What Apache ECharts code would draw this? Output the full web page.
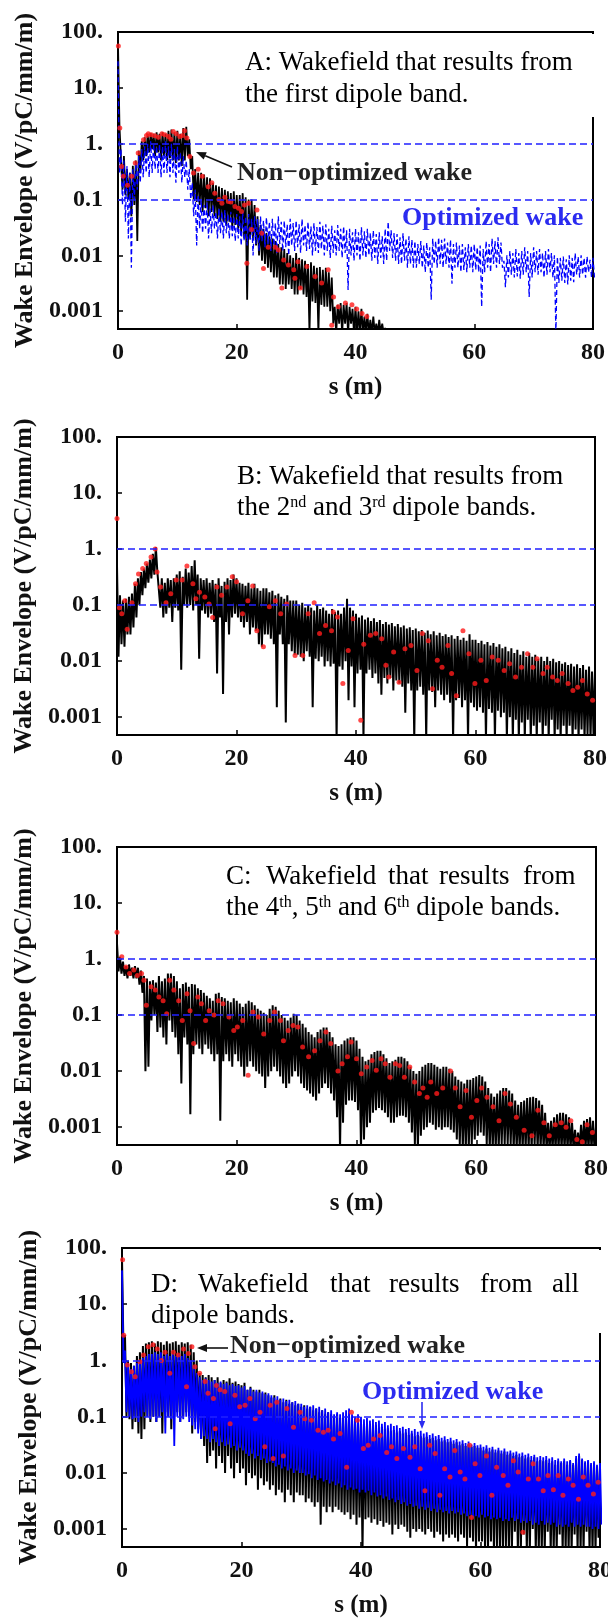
<!DOCTYPE html>
<html>
<head>
<meta charset="utf-8">
<title>Wake envelope</title>
<script src="https://cdn.jsdelivr.net/npm/echarts@6/dist/echarts.min.js"></script>
<style>
  html, body { margin: 0; padding: 0; background: #fff; }
  #chart { width: 608px; height: 1619px; }
</style>
</head>
<body>
<div id="chart"></div>
<script>
// samples every 0.5 m along s; each sample = envelope top (hi) and dip (lo)
const sStep = 0.5;

const yTickValues = [0.001, 0.01, 0.1, 1, 10, 100];
const yTickLabels = ['0.001', '0.01', '0.1', '1.', '10.', '100.'];
const refLevels = [1, 0.1];

// ---- panel A : first dipole band
const aBlackHi = [
  60, 2, 0.6, 0.35, 0.3, 0.4, 0.5, 0.75, 1.1, 1.3,
  1.5, 1.55, 1.5, 1.6, 1.5, 1.6, 1.5, 1.7, 1.8, 1.6,
  1.7, 1.5, 1.9, 2.0, 1.2, 0.6, 0.35, 0.3, 0.3, 0.28,
  0.25, 0.24, 0.2, 0.18, 0.17, 0.16, 0.15, 0.14, 0.13, 0.14,
  0.12, 0.12, 0.13, 0.11, 0.1, 0.1, 0.08, 0.05, 0.035, 0.03,
  0.025, 0.022, 0.02, 0.018, 0.016, 0.014, 0.013, 0.011, 0.01, 0.009,
  0.011, 0.009, 0.0085, 0.008, 0.007, 0.0075, 0.0065, 0.006, 0.0062, 0.0055,
  0.006, 0.005, 0.004, 0.0012, 0.0013, 0.0014, 0.0013, 0.0014, 0.0012, 0.0011,
  0.0012, 0.001, 0.0011, 0.0008, 0.0009, 0.0007, 0.0008, 0.0006, 0.0007, 0.0006,
  0.0005
];
const aBlackLo = [
  2, 0.15, 0.12, 0.1, 0.05, 0.08, 0.018, 0.3, 0.5, 0.6,
  0.7, 0.8, 0.6, 0.7, 0.5, 0.6, 0.5, 0.55, 0.5, 0.45,
  0.5, 0.4, 0.5, 0.6, 0.35, 0.1, 0.09, 0.08, 0.06, 0.07,
  0.05, 0.06, 0.05, 0.045, 0.04, 0.04, 0.035, 0.04, 0.03, 0.035,
  0.03, 0.025, 0.02, 0.0016, 0.02, 0.02, 0.015, 0.01, 0.008, 0.007,
  0.006, 0.005, 0.004, 0.004, 0.003, 0.003, 0.0025, 0.003, 0.0025, 0.002,
  0.002, 0.0025, 0.002, 0.0018, 0.0004, 0.0015, 0.0014, 0.0004, 0.0013, 0.0012,
  0.0012, 0.001, 0.0006, 0.0004, 0.0006, 0.0004, 0.0006, 0.0004, 0.0006, 0.0004,
  0.0004, 0.0004, 0.0004, 0.0004, 0.0004, 0.0004, 0.0004, 0.0004, 0.0004, 0.0004,
  0.0004
];
const aBlueHi = [
  30, 0.8, 0.5, 0.4, 0.3, 0.35, 0.45, 0.6, 0.8, 0.9,
  1.0, 1.1, 1.0, 0.9, 1.0, 0.9, 1.1, 0.9, 1.0, 0.8,
  0.9, 0.7, 0.6, 0.5, 0.35, 0.2, 0.15, 0.12, 0.1, 0.08,
  0.09, 0.07, 0.08, 0.06, 0.07, 0.06, 0.065, 0.055, 0.06, 0.05,
  0.055, 0.05, 0.06, 0.05, 0.055, 0.045, 0.05, 0.045, 0.05, 0.042,
  0.048, 0.04, 0.045, 0.038, 0.05, 0.04, 0.042, 0.036, 0.045, 0.038,
  0.042, 0.036, 0.045, 0.035, 0.04, 0.033, 0.038, 0.032, 0.04, 0.034,
  0.036, 0.03, 0.034, 0.028, 0.035, 0.03, 0.033, 0.028, 0.03, 0.026,
  0.03, 0.026, 0.032, 0.027, 0.03, 0.025, 0.028, 0.024, 0.026, 0.022,
  0.03, 0.04, 0.028, 0.025, 0.024, 0.021, 0.025, 0.02, 0.022, 0.019,
  0.018, 0.016, 0.018, 0.015, 0.017, 0.014, 0.02, 0.018, 0.021, 0.019,
  0.02, 0.017, 0.019, 0.016, 0.017, 0.015, 0.016, 0.014, 0.016, 0.015,
  0.016, 0.014, 0.015, 0.013, 0.018, 0.016, 0.02, 0.018, 0.021, 0.017,
  0.008, 0.01, 0.012, 0.011, 0.013, 0.011, 0.012, 0.014, 0.012, 0.011,
  0.014, 0.012, 0.013, 0.011, 0.012, 0.013, 0.011, 0.01, 0.0094, 0.009,
  0.0095, 0.0085, 0.01, 0.009, 0.011, 0.0095, 0.01, 0.009, 0.0095, 0.0083,
  0.009
];
const aBlueLo = [
  0.3, 0.08, 0.04, 0.02, 0.006, 0.1, 0.15, 0.2, 0.25, 0.3,
  0.25, 0.3, 0.35, 0.3, 0.25, 0.3, 0.3, 0.25, 0.3, 0.2,
  0.3, 0.2, 0.25, 0.15, 0.1, 0.05, 0.015, 0.03, 0.025, 0.03,
  0.02, 0.025, 0.03, 0.02, 0.025, 0.02, 0.025, 0.02, 0.022, 0.018,
  0.02, 0.015, 0.018, 0.015, 0.018, 0.01, 0.016, 0.012, 0.018, 0.014,
  0.016, 0.012, 0.015, 0.011, 0.016, 0.012, 0.014, 0.01, 0.015, 0.012,
  0.014, 0.011, 0.015, 0.012, 0.013, 0.01, 0.012, 0.011, 0.013, 0.01,
  0.012, 0.009, 0.011, 0.01, 0.012, 0.009, 0.011, 0.0024, 0.01, 0.008,
  0.01, 0.008, 0.01, 0.009, 0.01, 0.008, 0.009, 0.007, 0.009, 0.007,
  0.008, 0.012, 0.009, 0.008, 0.007, 0.007, 0.008, 0.006, 0.007, 0.006,
  0.006, 0.007, 0.006, 0.005, 0.006, 0.0016, 0.007, 0.006, 0.007, 0.006,
  0.007, 0.006, 0.0031, 0.006, 0.006, 0.005, 0.0055, 0.005, 0.006, 0.005,
  0.0055, 0.005, 0.0012, 0.005, 0.006, 0.005, 0.007, 0.006, 0.007, 0.006,
  0.0027, 0.004, 0.0045, 0.004, 0.0042, 0.0038, 0.0045, 0.005, 0.0018, 0.004,
  0.005, 0.0045, 0.005, 0.004, 0.0045, 0.005, 0.004, 0.0004, 0.0032, 0.0035,
  0.0032, 0.003, 0.0035, 0.0033, 0.0045, 0.004, 0.0045, 0.004, 0.005, 0.004,
  0.004
];
const aDots = [
  [0.06, 56], [0.3, 1.9], [0.6, 0.39], [0.9, 0.26], [1.6, 0.18], [2.3, 0.26], [2.9, 0.45],
  [3.4, 0.68], [4.3, 1.18], [4.8, 1.4], [5.1, 1.5], [5.6, 1.45], [6.2, 1.39], [6.8, 1.3],
  [7.4, 1.5], [7.9, 1.45], [8.5, 1.35], [8.9, 1.2], [9.3, 1.66], [9.8, 1.5], [10.4, 1.35],
  [10.9, 1.4], [11.2, 1.7], [11.6, 1.26], [12.1, 0.59], [12.7, 0.3], [13.5, 0.35], [14.2, 0.26],
  [15.2, 0.17], [15.8, 0.2], [16.3, 0.13], [17, 0.1], [17.5, 0.086], [18, 0.11], [18.6, 0.092],
  [19, 0.09], [19.7, 0.075], [20.3, 0.07], [20.8, 0.061], [21.3, 0.08], [21.7, 0.0072],
  [22, 0.086], [22.5, 0.029], [23.4, 0.065], [24.2, 0.025], [24.5, 0.0058], [25.3, 0.014],
  [26.5, 0.014], [27, 0.0125], [27.6, 0.0026], [27.9, 0.0083], [28.7, 0.0067], [29.6, 0.0055],
  [29.8, 0.0039], [30.3, 0.0077], [30.7, 0.0026], [31.8, 0.0063], [33.2, 0.0042], [34.3, 0.0032],
  [35.4, 0.0055], [36, 0.00056], [36.3, 0.0018], [37.1, 0.0012], [38.3, 0.0014], [39.4, 0.0013],
  [40.2, 0.0011], [41.1, 0.00091], [41.9, 0.0008]
];

// ---- panel B : 2nd and 3rd dipole bands
const bBlackHi = [
  0.5, 0.15, 0.12, 0.13, 0.14, 0.16, 0.24, 0.3, 0.39, 0.45,
  0.55, 0.65, 0.82, 1.08, 0.42, 0.3, 0.25, 0.3, 0.28, 0.3,
  0.35, 0.4, 0.32, 0.45, 0.38, 0.5, 0.63, 0.35, 0.3, 0.28,
  0.3, 0.25, 0.28, 0.24, 0.3, 0.22, 0.26, 0.3, 0.28, 0.35,
  0.3, 0.25, 0.24, 0.22, 0.25, 0.2, 0.24, 0.2, 0.18, 0.2,
  0.2, 0.17, 0.18, 0.15, 0.16, 0.14, 0.13, 0.15, 0.12, 0.12,
  0.12, 0.1, 0.11, 0.09, 0.1, 0.09, 0.08, 0.1, 0.085, 0.09,
  0.08, 0.07, 0.085, 0.075, 0.08, 0.07, 0.09, 0.13, 0.09, 0.08,
  0.07, 0.06, 0.065, 0.055, 0.06, 0.052, 0.058, 0.05, 0.054, 0.046,
  0.05, 0.045, 0.048, 0.042, 0.046, 0.04, 0.043, 0.038, 0.04, 0.036,
  0.038, 0.034, 0.036, 0.032, 0.035, 0.03, 0.034, 0.029, 0.032, 0.028,
  0.03, 0.027, 0.029, 0.025, 0.028, 0.024, 0.026, 0.023, 0.03, 0.024,
  0.024, 0.021, 0.023, 0.02, 0.022, 0.019, 0.021, 0.018, 0.02, 0.017,
  0.018, 0.015, 0.017, 0.014, 0.016, 0.013, 0.015, 0.012, 0.014, 0.012,
  0.013, 0.011, 0.012, 0.01, 0.012, 0.01, 0.011, 0.0095, 0.01, 0.009,
  0.0095, 0.0085, 0.009, 0.008, 0.0088, 0.0075, 0.0085, 0.007, 0.008, 0.0065,
  0.007
];
const bBlackLo = [
  0.012, 0.02, 0.018, 0.03, 0.03, 0.04, 0.06, 0.1, 0.15, 0.2,
  0.25, 0.3, 0.35, 0.4, 0.09, 0.06, 0.07, 0.09, 0.05, 0.09,
  0.08, 0.007, 0.1, 0.09, 0.1, 0.08, 0.1, 0.011, 0.08, 0.07,
  0.06, 0.07, 0.05, 0.006, 0.06, 0.0026, 0.05, 0.03, 0.06, 0.07,
  0.06, 0.05, 0.04, 0.05, 0.03, 0.04, 0.035, 0.02, 0.018, 0.03,
  0.03, 0.025, 0.02, 0.0015, 0.03, 0.02, 0.0008, 0.02, 0.015, 0.013,
  0.013, 0.012, 0.01, 0.015, 0.012, 0.0015, 0.011, 0.01, 0.012, 0.008,
  0.01, 0.008, 0.009, 0.0004, 0.008, 0.007, 0.01, 0.002, 0.008, 0.0015,
  0.006, 0.007, 0.0004, 0.006, 0.007, 0.005, 0.006, 0.004, 0.0025, 0.005,
  0.004, 0.005, 0.003, 0.0045, 0.004, 0.0035, 0.0012, 0.004, 0.003, 0.0004,
  0.003, 0.0035, 0.0025, 0.0004, 0.003, 0.0028, 0.0015, 0.003, 0.0025, 0.002,
  0.0025, 0.0018, 0.0004, 0.002, 0.0022, 0.0015, 0.002, 0.0004, 0.0018, 0.0015,
  0.0013, 0.0015, 0.0012, 0.0004, 0.0014, 0.0012, 0.0004, 0.0013, 0.001, 0.0012,
  0.0004, 0.001, 0.0004, 0.0009, 0.0004, 0.0008, 0.0004, 0.0009, 0.0004, 0.0007,
  0.0004, 0.0008, 0.0004, 0.0007, 0.0004, 0.0009, 0.0004, 0.0006, 0.0004, 0.0007,
  0.0004, 0.0007, 0.0004, 0.0006, 0.0004, 0.0006, 0.0004, 0.0005, 0.0004, 0.0005,
  0.0004
];
const bDots = [
  [0, 3.5], [0.4, 0.09], [0.8, 0.07], [1.3, 0.12], [1.7, 0.037], [2.5, 0.11], [3.1, 0.24],
  [3.6, 0.36], [4.3, 0.45], [4.9, 0.55], [5.7, 0.72], [6.4, 1.0], [6.7, 0.39], [7.3, 0.21],
  [8.2, 0.11], [9, 0.16], [9.9, 0.28], [10.9, 0.28], [11.7, 0.5], [12.7, 0.24], [13.2, 0.13],
  [13.8, 0.17], [14.7, 0.14], [15.4, 0.105], [16, 0.06], [16.7, 0.21], [17.5, 0.15], [18.4, 0.21],
  [19.3, 0.32], [20, 0.26], [21, 0.07], [21.9, 0.12], [22.7, 0.22], [23.4, 0.035], [24.5, 0.018],
  [25.5, 0.093], [26.5, 0.12], [27.4, 0.07], [28.4, 0.105], [29.8, 0.0126], [31.1, 0.0126],
  [32, 0.07], [33, 0.11], [33.9, 0.031], [34.9, 0.043], [35.9, 0.035], [36.2, 0.075],
  [36.9, 0.061], [37.8, 0.004], [38.7, 0.0155], [39.5, 0.057], [40.8, 0.00088], [41.3, 0.02],
  [42.4, 0.029], [43.3, 0.031], [44.3, 0.025], [45, 0.0084], [45.5, 0.0052], [46.3, 0.0145],
  [47.2, 0.0042], [48.2, 0.0167], [49.2, 0.019], [50.2, 0.0068], [51.1, 0.031], [52.1, 0.023],
  [52.8, 0.0032], [53.6, 0.0104], [54.4, 0.0078], [55.4, 0.019], [56, 0.006], [56.8, 0.0024],
  [57.9, 0.035], [58.9, 0.0135], [59.9, 0.004], [60.9, 0.0104], [61.8, 0.0045], [62.8, 0.0118],
  [63.8, 0.0104], [64.8, 0.0068], [65.7, 0.009], [66.7, 0.0052], [67.7, 0.0078], [68.7, 0.0135],
  [69.6, 0.0078], [70.3, 0.011], [71.3, 0.006], [72, 0.0078], [72.9, 0.0052], [73.7, 0.0045],
  [74.5, 0.006], [75.5, 0.004], [76.3, 0.003], [77.1, 0.0034], [77.9, 0.0045], [78.7, 0.0026],
  [79.6, 0.002]
];

// ---- panel C : 4th, 5th and 6th dipole bands
const cBlackHi = [
  1.9, 1.1, 0.9, 0.75, 0.8, 0.7, 0.75, 0.7, 0.62, 0.5,
  0.45, 0.4, 0.42, 0.38, 0.5, 0.4, 0.45, 0.55, 0.55, 0.5,
  0.4, 0.3, 0.36, 0.38, 0.32, 0.36, 0.35, 0.3, 0.28, 0.25,
  0.22, 0.2, 0.18, 0.24, 0.25, 0.21, 0.2, 0.18, 0.17, 0.2,
  0.18, 0.16, 0.14, 0.16, 0.18, 0.17, 0.15, 0.13, 0.12, 0.11,
  0.1, 0.13, 0.15, 0.14, 0.12, 0.1, 0.09, 0.08, 0.09, 0.105,
  0.1, 0.08, 0.07, 0.06, 0.05, 0.045, 0.04, 0.05, 0.055, 0.06,
  0.06, 0.05, 0.04, 0.03, 0.028, 0.03, 0.035, 0.038, 0.04, 0.04,
  0.035, 0.025, 0.018, 0.015, 0.016, 0.02, 0.022, 0.023, 0.023, 0.02,
  0.017, 0.014, 0.015, 0.016, 0.018, 0.018, 0.017, 0.015, 0.012, 0.01,
  0.009, 0.01, 0.012, 0.013, 0.014, 0.014, 0.013, 0.012, 0.011, 0.012,
  0.012, 0.011, 0.01, 0.008, 0.007, 0.0065, 0.006, 0.007, 0.007, 0.0075,
  0.008, 0.0085, 0.008, 0.0065, 0.005, 0.004, 0.0035, 0.004, 0.0045, 0.005,
  0.005, 0.0045, 0.004, 0.003, 0.0025, 0.0028, 0.003, 0.0033, 0.0034, 0.0035,
  0.0033, 0.003, 0.0025, 0.0018, 0.0012, 0.0013, 0.0015, 0.0017, 0.0018, 0.0018,
  0.0017, 0.0015, 0.0012, 0.0009, 0.0008, 0.0011, 0.0013, 0.0014, 0.0015, 0.0013,
  0.001
];
const cBlackLo = [
  0.6, 0.55, 0.5, 0.45, 0.5, 0.45, 0.45, 0.35, 0.25, 0.01,
  0.012, 0.08, 0.1, 0.05, 0.06, 0.04, 0.03, 0.08, 0.05, 0.04,
  0.02, 0.006, 0.04, 0.03, 0.0017, 0.02, 0.03, 0.025, 0.02, 0.03,
  0.025, 0.02, 0.015, 0.02, 0.0013, 0.015, 0.02, 0.015, 0.012, 0.02,
  0.015, 0.012, 0.008, 0.012, 0.015, 0.012, 0.01, 0.009, 0.008, 0.005,
  0.008, 0.01, 0.012, 0.01, 0.008, 0.006, 0.005, 0.006, 0.008, 0.01,
  0.008, 0.006, 0.005, 0.0045, 0.004, 0.0035, 0.003, 0.004, 0.005, 0.006,
  0.005, 0.004, 0.003, 0.0015, 0.0004, 0.0012, 0.0025, 0.003, 0.003, 0.0028,
  0.002, 0.0004, 0.0006, 0.001, 0.0012, 0.0018, 0.002, 0.0022, 0.002, 0.0018,
  0.0015, 0.0012, 0.0012, 0.0015, 0.0016, 0.0016, 0.0015, 0.0012, 0.0008, 0.0005,
  0.0004, 0.0007, 0.0009, 0.001, 0.0012, 0.0011, 0.0009, 0.001, 0.0009, 0.001,
  0.001, 0.0009, 0.0008, 0.0006, 0.0005, 0.0004, 0.0004, 0.0004, 0.0005, 0.0006,
  0.0007, 0.0008, 0.0007, 0.0005, 0.0004, 0.0004, 0.0004, 0.0004, 0.0005, 0.0005,
  0.0005, 0.0005, 0.0004, 0.0004, 0.0004, 0.0004, 0.0004, 0.0004, 0.0004, 0.0005,
  0.0004, 0.0004, 0.0004, 0.0004, 0.0004, 0.0004, 0.0004, 0.0004, 0.0004, 0.0004,
  0.0004, 0.0004, 0.0004, 0.0004, 0.0004, 0.0004, 0.0004, 0.0004, 0.0004, 0.0004,
  0.0004
];
const cDots = [
  [0, 3.0], [0.8, 1.1], [1.5, 0.72], [2.1, 0.55], [2.8, 0.64], [3.4, 0.51], [4.1, 0.55],
  [4.5, 0.42], [4.9, 0.15], [5.7, 0.32], [6.4, 0.28], [7, 0.21], [7.7, 0.18], [8.3, 0.106],
  [8.8, 0.42], [9.5, 0.28], [10.3, 0.18], [10.9, 0.08], [11.7, 0.24], [12.2, 0.12], [12.8, 0.031],
  [13.5, 0.21], [14.1, 0.16], [14.8, 0.08], [15.4, 0.12], [16.2, 0.1], [16.9, 0.18], [17.7, 0.16],
  [18.7, 0.092], [19.5, 0.053], [20.1, 0.061], [21, 0.08], [21.9, 0.0084], [22.7, 0.113],
  [23.6, 0.092], [24.5, 0.046], [25.5, 0.08], [26.3, 0.113], [27.3, 0.08], [27.8, 0.035],
  [28.6, 0.053], [29.4, 0.065], [30.2, 0.061], [31, 0.027], [32, 0.018], [33, 0.023],
  [33.9, 0.035], [34.9, 0.05], [35.7, 0.031], [36.9, 0.01], [37.6, 0.0135], [38.5, 0.018],
  [39.1, 0.033], [40, 0.0166], [40.8, 0.009], [41.7, 0.0118], [42.6, 0.0155], [43.3, 0.0104],
  [44.1, 0.0166], [44.8, 0.0135], [45.6, 0.0078], [46.5, 0.0135], [47.2, 0.0126], [48, 0.0078],
  [48.9, 0.0118], [49.7, 0.0064], [50.5, 0.004], [51.1, 0.005], [51.8, 0.0034], [52.4, 0.0064],
  [53.4, 0.004], [54.4, 0.005], [55.7, 0.01], [56.5, 0.005], [57.3, 0.0023], [58.3, 0.0045],
  [59.2, 0.0015], [60.1, 0.003], [60.9, 0.005], [61.8, 0.0034], [62.8, 0.0023], [63.8, 0.0013],
  [64.8, 0.004], [65.7, 0.0026], [66.7, 0.0015], [68, 0.00088], [69.3, 0.0007], [70.3, 0.002],
  [71.3, 0.0012], [72.2, 0.0007], [73.2, 0.0011], [74.2, 0.0012], [75, 0.001], [75.8, 0.0013],
  [76.8, 0.0006], [77.7, 0.00055], [78.5, 0.0011], [79.4, 0.0008]
];

// ---- panel D : all dipole bands
const dBlackHi = [
  66, 2.8, 1.0, 0.9, 0.8, 1.2, 1.4, 1.8, 2.0, 2.1,
  2.2, 2.0, 2.2, 2.1, 1.9, 2.2, 2.0, 2.1, 2.2, 1.9,
  2.1, 2.0, 2.1, 1.9, 1.4, 1.0, 0.6, 0.55, 0.5, 0.55,
  0.5, 0.45, 0.5, 0.4, 0.45, 0.42, 0.48, 0.4, 0.42, 0.38,
  0.36, 0.4, 0.3, 0.34, 0.3, 0.28, 0.3, 0.26, 0.27, 0.24,
  0.22, 0.24, 0.2, 0.21, 0.18, 0.2, 0.17, 0.18, 0.16, 0.17,
  0.15, 0.16, 0.14, 0.15, 0.13, 0.14, 0.12, 0.13, 0.11, 0.12,
  0.11, 0.1, 0.11, 0.095, 0.1, 0.09, 0.1, 0.085, 0.09, 0.08,
  0.08, 0.075, 0.07, 0.075, 0.068, 0.07, 0.062, 0.066, 0.06, 0.062,
  0.055, 0.058, 0.052, 0.055, 0.05, 0.052, 0.047, 0.05, 0.045, 0.047,
  0.045, 0.042, 0.044, 0.04, 0.042, 0.038, 0.04, 0.036, 0.038, 0.035,
  0.036, 0.033, 0.035, 0.031, 0.033, 0.03, 0.032, 0.029, 0.03, 0.028,
  0.028, 0.025, 0.027, 0.024, 0.026, 0.023, 0.025, 0.022, 0.024, 0.021,
  0.022, 0.02, 0.021, 0.019, 0.02, 0.018, 0.019, 0.017, 0.019, 0.016,
  0.017, 0.016, 0.017, 0.015, 0.016, 0.014, 0.016, 0.015, 0.016, 0.014,
  0.016, 0.014, 0.018, 0.02, 0.017, 0.015, 0.016, 0.014, 0.015, 0.013,
  0.014
];
const dBlackLo = [
  1.5, 0.1, 0.09, 0.06, 0.08, 0.05, 0.04, 0.06, 0.1, 0.08,
  0.1, 0.08, 0.1, 0.05, 0.12, 0.1, 0.06, 0.1, 0.12, 0.08,
  0.1, 0.12, 0.1, 0.05, 0.08, 0.06, 0.04, 0.03, 0.015, 0.02,
  0.025, 0.012, 0.02, 0.015, 0.01, 0.02, 0.012, 0.008, 0.015, 0.01,
  0.012, 0.006, 0.01, 0.008, 0.009, 0.005, 0.008, 0.006, 0.007, 0.005,
  0.006, 0.004, 0.005, 0.0045, 0.003, 0.005, 0.004, 0.003, 0.0045, 0.004,
  0.004, 0.003, 0.0035, 0.003, 0.0025, 0.003, 0.0012, 0.0025, 0.002, 0.0025,
  0.002, 0.0025, 0.0022, 0.002, 0.0018, 0.002, 0.0015, 0.0018, 0.0012, 0.0016,
  0.0004, 0.0015, 0.0016, 0.0013, 0.0015, 0.0012, 0.0014, 0.0011, 0.0013, 0.0012,
  0.0008, 0.0012, 0.001, 0.0012, 0.0011, 0.0009, 0.0007, 0.001, 0.0009, 0.001,
  0.0009, 0.0008, 0.001, 0.0009, 0.0007, 0.0009, 0.0008, 0.0006, 0.0008, 0.0007,
  0.0008, 0.0007, 0.0006, 0.0008, 0.0007, 0.0005, 0.0007, 0.0006, 0.0004, 0.0006,
  0.0006, 0.0005, 0.0004, 0.0006, 0.0004, 0.0005, 0.0004, 0.0004, 0.0005, 0.0004,
  0.0004, 0.0009, 0.0004, 0.0004, 0.0008, 0.0004, 0.0004, 0.001, 0.0004, 0.0004,
  0.0004, 0.0004, 0.0009, 0.0004, 0.0004, 0.0004, 0.0008, 0.0004, 0.0004, 0.0004,
  0.0004, 0.0008, 0.0004, 0.0004, 0.0004, 0.0009, 0.0004, 0.0004, 0.0004, 0.0007,
  0.0004
];
const dBlueHi = [
  40, 1.5, 0.9, 0.7, 0.8, 0.9, 1.0, 1.1, 1.2, 1.3,
  1.3, 1.4, 1.3, 1.4, 1.2, 1.3, 1.2, 1.3, 1.2, 1.3,
  1.2, 1.3, 1.1, 1.0, 0.8, 0.6, 0.5, 0.45, 0.48, 0.45,
  0.42, 0.45, 0.4, 0.42, 0.38, 0.4, 0.36, 0.38, 0.35, 0.36,
  0.33, 0.35, 0.3, 0.32, 0.28, 0.3, 0.27, 0.28, 0.25, 0.26,
  0.24, 0.22, 0.23, 0.2, 0.21, 0.19, 0.2, 0.18, 0.19, 0.17,
  0.17, 0.15, 0.16, 0.15, 0.16, 0.14, 0.15, 0.13, 0.14, 0.12,
  0.13, 0.11, 0.12, 0.11, 0.12, 0.13, 0.14, 0.11, 0.1, 0.11,
  0.1, 0.09, 0.095, 0.085, 0.09, 0.08, 0.085, 0.075, 0.08, 0.07,
  0.075, 0.068, 0.07, 0.063, 0.066, 0.06, 0.063, 0.056, 0.06, 0.054,
  0.056, 0.05, 0.053, 0.047, 0.05, 0.045, 0.047, 0.042, 0.045, 0.04,
  0.042, 0.038, 0.04, 0.036, 0.038, 0.034, 0.036, 0.032, 0.034, 0.031,
  0.032, 0.029, 0.031, 0.028, 0.029, 0.026, 0.028, 0.025, 0.027, 0.024,
  0.025, 0.023, 0.024, 0.022, 0.023, 0.021, 0.022, 0.02, 0.021, 0.019,
  0.02, 0.019, 0.02, 0.018, 0.019, 0.017, 0.018, 0.016, 0.018, 0.016,
  0.017, 0.015, 0.02, 0.022, 0.018, 0.016, 0.017, 0.015, 0.016, 0.014,
  0.015
];
const dBlueLo = [
  0.9, 0.12, 0.1, 0.09, 0.1, 0.08, 0.1, 0.12, 0.1, 0.09,
  0.1, 0.08, 0.1, 0.12, 0.05, 0.1, 0.09, 0.03, 0.1, 0.08,
  0.09, 0.1, 0.08, 0.07, 0.06, 0.05, 0.04, 0.045, 0.04, 0.035,
  0.04, 0.035, 0.03, 0.035, 0.03, 0.032, 0.028, 0.03, 0.025, 0.028,
  0.025, 0.022, 0.02, 0.022, 0.018, 0.02, 0.017, 0.018, 0.015, 0.016,
  0.015, 0.013, 0.014, 0.012, 0.013, 0.011, 0.012, 0.01, 0.011, 0.01,
  0.01, 0.009, 0.0095, 0.008, 0.009, 0.0075, 0.008, 0.007, 0.0075, 0.0065,
  0.007, 0.006, 0.0065, 0.0055, 0.006, 0.005, 0.0055, 0.005, 0.0052, 0.0045,
  0.005, 0.0045, 0.0048, 0.004, 0.0045, 0.0038, 0.004, 0.0035, 0.0038, 0.0033,
  0.0035, 0.003, 0.0033, 0.0028, 0.003, 0.0026, 0.0028, 0.0025, 0.0026, 0.0023,
  0.0025, 0.0022, 0.0024, 0.0021, 0.0023, 0.002, 0.0022, 0.002, 0.0021, 0.0019,
  0.0021, 0.0019, 0.002, 0.0018, 0.0019, 0.0017, 0.0018, 0.0016, 0.0017, 0.0016,
  0.0018, 0.0016, 0.0017, 0.0015, 0.0016, 0.0015, 0.0016, 0.0014, 0.0015, 0.0014,
  0.0016, 0.0014, 0.0015, 0.0013, 0.0014, 0.0013, 0.0014, 0.0012, 0.0013, 0.0012,
  0.0014, 0.0012, 0.0013, 0.0012, 0.0013, 0.0011, 0.0012, 0.0011, 0.0012, 0.0011,
  0.0013, 0.0011, 0.0012, 0.0011, 0.0012, 0.0011, 0.0011, 0.001, 0.0011, 0.001,
  0.0012
];
const dDots = [
  [0.1, 62], [0.3, 2.8], [0.9, 0.83], [1.6, 0.63], [2.2, 0.51], [3, 0.95], [3.6, 1.25],
  [4.4, 1.75], [5.2, 1.9], [5.9, 1.6], [6.6, 1.0], [7.2, 1.4], [8, 0.59], [8.6, 1.4],
  [9.4, 1.25], [10.3, 1.6], [10.8, 0.34], [11.1, 1.33], [11.7, 1.75], [12.2, 0.77], [13, 0.59],
  [13.9, 0.42], [14.4, 0.26], [15.3, 0.21], [15.6, 0.061], [15.8, 0.36], [16.4, 0.3], [17.2, 0.28],
  [18.1, 0.075], [18.9, 0.24], [19.7, 0.15], [20.6, 0.16], [21.4, 0.21], [22.3, 0.092],
  [23.1, 0.12], [23.9, 0.029], [24.8, 0.16], [25.3, 0.018], [25.9, 0.18], [27, 0.02],
  [27.6, 0.14], [28.7, 0.065], [29.8, 0.12], [30.6, 0.092], [31.7, 0.086], [32.8, 0.057],
  [33.7, 0.053], [34.5, 0.057], [35.4, 0.04], [36.5, 0.05], [37.6, 0.0126], [38.4, 0.12],
  [39.4, 0.086], [40.4, 0.027], [41.2, 0.031], [42.1, 0.04], [43.2, 0.046], [44.3, 0.023],
  [45.1, 0.029], [46, 0.018], [47.1, 0.027], [48.2, 0.019], [49, 0.029], [49.9, 0.0118],
  [50.7, 0.0048], [51.5, 0.031], [52.4, 0.022], [53.2, 0.004], [54, 0.0118], [54.9, 0.0084],
  [55.7, 0.025], [56.6, 0.0104], [57.4, 0.0078], [58.2, 0.031], [58.5, 0.0016], [59.1, 0.0145],
  [59.9, 0.009], [61, 0.02], [61.9, 0.004], [62.7, 0.0126], [63.8, 0.009], [64.6, 0.006],
  [65.5, 0.0165], [66.3, 0.0104], [67.1, 0.00088], [68, 0.0078], [68.8, 0.0145], [69.7, 0.0078],
  [70.5, 0.0048], [71.3, 0.009], [72.2, 0.005], [73, 0.009], [73.8, 0.004], [74.7, 0.0078],
  [75.5, 0.006], [76.4, 0.0034], [77.2, 0.0084], [78, 0.006], [78.9, 0.0042], [79.7, 0.0068]
];

const serif = '"Liberation Serif", "Times New Roman", serif';

const grids = [
  { left: 118, top: 32, width: 475, height: 297 },
  { left: 117, top: 437, width: 478, height: 298 },
  { left: 117, top: 847, width: 479, height: 298 },
  { left: 122, top: 1248, width: 478, height: 299 }
];

function zigzag(hi, lo) {
  const pts = [];
  for (let i = 0; i < hi.length; i++) {
    pts.push([i * sStep, hi[i]]);
    if (i < lo.length) pts.push([i * sStep + sStep / 2, lo[i]]);
  }
  return pts;
}

const refLine = {
  silent: true,
  symbol: ['none', 'none'],
  label: { show: false },
  lineStyle: { color: '#2020ff', type: [7, 4], width: 1.5 },
  data: refLevels.map(v => ({ yAxis: v }))
};

function band(idx, hi, lo, color, width, dash, withRef) {
  const s = {
    type: 'line',
    xAxisIndex: idx,
    yAxisIndex: idx,
    data: zigzag(hi, lo),
    showSymbol: false,
    symbol: 'none',
    silent: true,
    lineStyle: { color: color, width: width, type: dash || 'solid' },
    z: 2
  };
  if (withRef) s.markLine = refLine;
  return s;
}

function dots(idx, pts) {
  return {
    type: 'scatter',
    xAxisIndex: idx,
    yAxisIndex: idx,
    data: pts,
    symbolSize: 5,
    silent: true,
    itemStyle: { color: '#ff1a1a' },
    z: 4
  };
}

function yLabel(v) {
  for (let i = 0; i < yTickValues.length; i++) {
    if (Math.abs(Math.log10(v) - Math.log10(yTickValues[i])) < 0.01) return yTickLabels[i];
  }
  return '';
}

const xAxes = grids.map((g, i) => ({
  type: 'value',
  gridIndex: i,
  min: 0,
  max: 80,
  interval: 20,
  axisLine: { show: true, onZero: false, lineStyle: { color: '#000', width: 2 } },
  axisTick: { show: true, inside: true, length: 5, lineStyle: { color: '#000', width: 1.5 } },
  axisLabel: { fontFamily: serif, fontWeight: 'bold', fontSize: 24, color: '#111', margin: 12 },
  splitLine: { show: false },
  name: 's (m)',
  nameLocation: 'middle',
  nameGap: 46,
  nameTextStyle: { fontFamily: serif, fontWeight: 'bold', fontSize: 25, color: '#111' }
}));

const yAxes = grids.map((g, i) => ({
  type: 'log',
  logBase: 10,
  gridIndex: i,
  min: 0.00048,
  max: 100,
  axisLine: { show: true, lineStyle: { color: '#000', width: 2 } },
  axisTick: { show: true, inside: true, length: 5, lineStyle: { color: '#000', width: 1.5 } },
  axisLabel: { fontFamily: serif, fontWeight: 'bold', fontSize: 24, color: '#111', margin: 15, formatter: yLabel },
  splitLine: { show: false },
  minorTick: { show: false },
  name: 'Wake Envelope (V/pC/mm/m)',
  nameLocation: 'middle',
  nameGap: 80,
  nameTextStyle: { fontFamily: serif, fontWeight: 'bold', fontSize: 26, color: '#111' }
}));

function txt(x, y, text, opts) {
  return {
    type: 'text', x: x, y: y, z: 101, silent: true,
    style: Object.assign({
      text: text, font: '27px ' + serif, fill: '#000', verticalAlign: 'middle', align: 'left',
      rich: { s: { font: '16px ' + serif, verticalAlign: 'top', fill: '#000' } }
    }, opts || {})
  };
}

function words(list, y) {
  return list.map(w => txt(w[0], y, w[1]));
}

function arrow(x1, y1, x2, y2, color, head) {
  const dx = x2 - x1, dy = y2 - y1;
  const len = Math.sqrt(dx * dx + dy * dy);
  const ux = dx / len, uy = dy / len;
  const bx = x2 - ux * head, by = y2 - uy * head;
  const px = -uy * head * 0.4, py = ux * head * 0.4;
  return [
    { type: 'line', z: 101, silent: true, shape: { x1: x1, y1: y1, x2: bx, y2: by },
      style: { stroke: color, lineWidth: 1.6 } },
    { type: 'polygon', z: 101, silent: true,
      shape: { points: [[x2, y2], [bx + px, by + py], [bx - px, by - py]] },
      style: { fill: color } }
  ];
}

const bold = { font: 'bold 26px ' + serif };
const graphics = [
  // white label boxes cut the frame like in the original
  { type: 'rect', z: 100, silent: true, shape: { x: 226, y: 34, width: 380, height: 83 }, style: { fill: '#fff' } },
  { type: 'rect', z: 100, silent: true, shape: { x: 140, y: 1250, width: 468, height: 83 }, style: { fill: '#fff' } },

  txt(245, 63, 'A: Wakefield that results from'),
  txt(245, 95, 'the first dipole band.'),
  txt(237, 173, 'Non\u2212optimized wake', Object.assign({ fill: '#222' }, bold)),
  txt(402, 218, 'Optimized wake', Object.assign({ fill: '#2b2bf0' }, bold)),

  txt(237, 477, 'B: Wakefield that results from'),
  txt(237, 508, 'the 2{s|nd} and 3{s|rd} dipole bands.'),

  ...words([[226, 'C:'], [266, 'Wakefield'], [388, 'that'], [439, 'results'], [523, 'from']], 877),
  txt(226, 908, 'the 4{s|th}, 5{s|th} and 6{s|th} dipole bands.'),

  ...words([[151, 'D:'], [198, 'Wakefield'], [330, 'that'], [389, 'results'], [480, 'from'], [552, 'all']], 1285),
  txt(151, 1316, 'dipole bands.'),
  txt(230, 1346, 'Non\u2212optimized wake', Object.assign({ fill: '#222' }, bold)),
  txt(362, 1392, 'Optimized wake', Object.assign({ fill: '#2b2bf0' }, bold)),

  ...arrow(232, 167, 196, 152, '#111', 10),
  ...arrow(228, 1348, 197, 1348, '#111', 10),
  ...arrow(422, 1402, 422, 1429, '#2b2bf0', 8)
];

const chart = echarts.init(document.getElementById('chart'), null, { renderer: 'canvas' });
chart.setOption({
  animation: false,
  backgroundColor: '#fff',
  grid: grids.map(g => Object.assign({
    show: true, borderColor: '#000', borderWidth: 2, backgroundColor: 'transparent',
    containLabel: false, outerBoundsMode: 'none'
  }, g)),
  xAxis: xAxes,
  yAxis: yAxes,
  series: [
    band(0, aBlackHi, aBlackLo, '#000', 1.8),
    band(0, aBlueHi, aBlueLo, '#0000ff', 1.3, [5, 3], true),
    dots(0, aDots),
    band(1, bBlackHi, bBlackLo, '#000', 2, null, true),
    dots(1, bDots),
    band(2, cBlackHi, cBlackLo, '#000', 2, null, true),
    dots(2, cDots),
    band(3, dBlackHi, dBlackLo, '#000', 2),
    band(3, dBlueHi, dBlueLo, '#0000ff', 1.8, null, true),
    dots(3, dDots)
  ],
  graphic: graphics
});
</script>
</body>
</html>
